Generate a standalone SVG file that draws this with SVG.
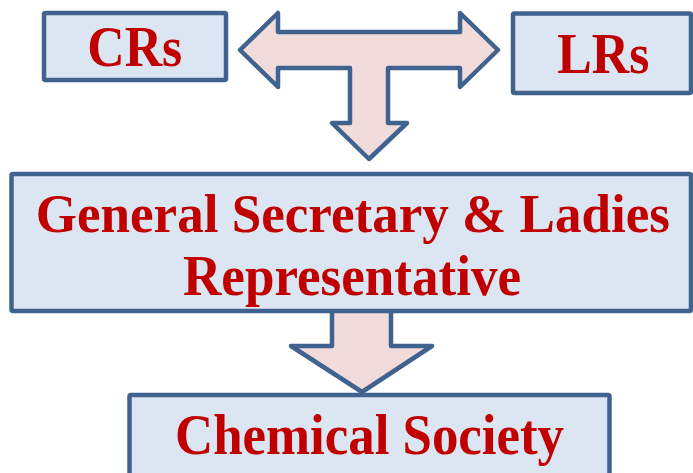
<svg xmlns="http://www.w3.org/2000/svg" width="693" height="473" viewBox="0 0 693 473">
<style>
.box{fill:#dce6f2;stroke:#3f628f;stroke-width:4.5;stroke-linejoin:round}
.arrow{fill:#f2dcdb;stroke:#3f628f;stroke-width:4.5;stroke-linejoin:round}
.lbl{font-family:"Liberation Serif","Times New Roman",serif;font-weight:bold;font-size:56px;fill:#c00000}
</style>
<rect width="693" height="473" fill="#ffffff"/>
<g id="connectors">
<path class="arrow" d="M240,50 L278,13 L278,32 L460,32 L460,13 L498,50 L460,87 L460,68 L388,68 L388,123 L407,123 L369,159 L332,123 L350,123 L350,68 L278,68 L278,87 Z"/>
<path class="arrow" d="M332,311 L332,346 L291,346 L362,392 L432,346 L391,346 L391,311"/>
</g>
<g id="crs">
<rect class="box" x="44" y="13" width="182" height="67" rx="1.5"/>
<text class="lbl" x="87.3" y="66" textLength="95" lengthAdjust="spacingAndGlyphs">CRs</text>
</g>
<g id="lrs">
<rect class="box" x="513" y="13.5" width="178" height="79.5" rx="1.5"/>
<text class="lbl" x="557.3" y="72.7" textLength="92" lengthAdjust="spacingAndGlyphs">LRs</text>
</g>
<g id="gs">
<rect class="box" x="11.5" y="174" width="679.5" height="137" rx="1.5"/>
<text class="lbl" x="35.7" y="231.7" style="font-size:54px" textLength="634.3" lengthAdjust="spacingAndGlyphs">General Secretary &amp; Ladies</text>
<text class="lbl" x="183" y="295" textLength="338" lengthAdjust="spacingAndGlyphs">Representative</text>
</g>
<g id="chem">
<rect class="box" x="129.5" y="395" width="480" height="100" rx="1.5"/>
<text class="lbl" x="175" y="454" textLength="389" lengthAdjust="spacingAndGlyphs">Chemical Society</text>
</g>
</svg>
